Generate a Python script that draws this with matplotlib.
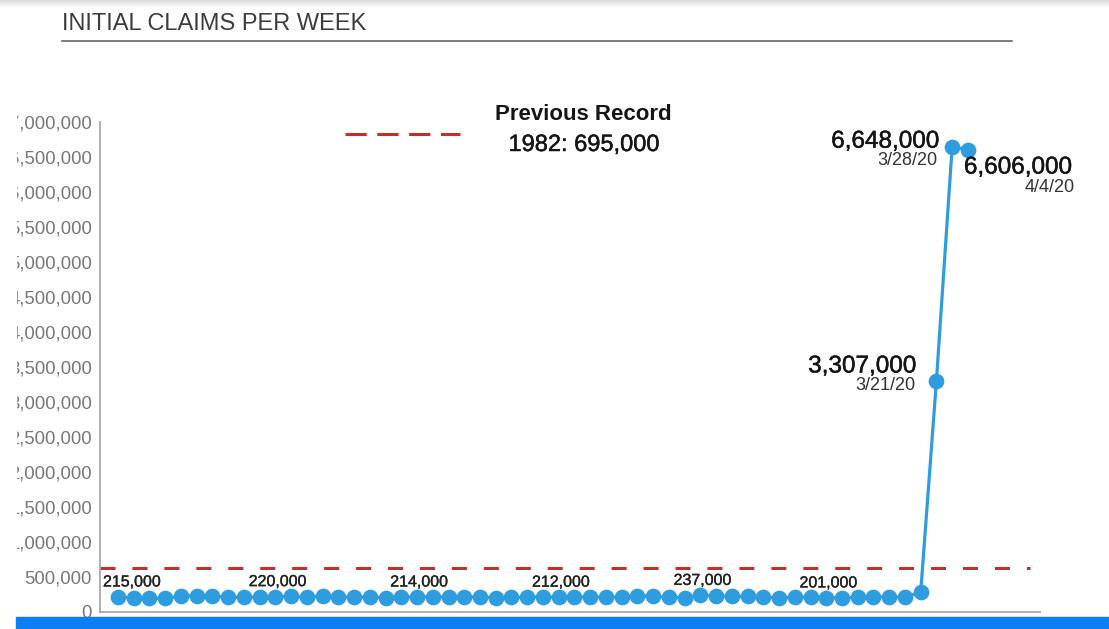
import matplotlib
matplotlib.use("Agg")
import matplotlib.pyplot as plt
import matplotlib.patheffects as pe
from matplotlib.lines import Line2D
from matplotlib.patches import Rectangle
from matplotlib.ticker import FuncFormatter, MultipleLocator
import numpy as np

# ---------------- data ----------------
TITLE = "INITIAL CLAIMS PER WEEK"
# weekly initial claims, weeks ending 3/23/19 ... 4/4/20
CLAIMS = [
    215000, 204000, 196000, 193000, 230000, 230000, 228000, 212000, 211000, 215000,
    220000, 222000, 216000, 227000, 221000, 209000, 216000, 206000, 215000, 214000,
    220000, 209000, 215000, 217000, 204000, 208000, 213000, 219000, 212000, 214000,
    212000, 218000, 211000, 225000, 227000, 213000, 203000, 237000, 234000, 222000,
    222000, 214000, 204000, 211000, 216000, 201000, 205000, 210000, 219000, 216000,
    211000, 282000, 3307000, 6648000, 6606000,
]
SMALL_LABEL_IDX = [0, 10, 19, 28, 37, 45]
BIG_LABEL_IDX = [52, 53, 54]
BIG_LABEL_DATES = ["3/21/20", "3/28/20", "4/4/20"]
RECORD_TEXT = ["Previous Record", "1982: 695,000"]
RECORD_LINE = 625000
Y_MAX = 7000000
Y_STEP = 500000

LINE_COLOR = "#2e9de0"
RED = "#c2302e"
BLUE_BAR = "#0c7ef2"

plt.rcParams["font.family"] = ["Liberation Sans", "DejaVu Sans"]
plt.rcParams["lines.scale_dashes"] = False

W, H = 1109, 629
fig = plt.figure(figsize=(W / 100, H / 100), dpi=100)
fig.patch.set_facecolor("white")


def thick(c, w=0.3):
    return [pe.withStroke(linewidth=w, foreground=c)]


ax = fig.add_axes([100 / W, 17 / H, 940 / W, 490 / H])
x = np.arange(len(CLAIMS))

ax.axhline(RECORD_LINE, xmin=0, xmax=(1030 - 100) / 940, color=RED, lw=2.2,
           dashes=(10.8, 12.2), zorder=2)
ax.plot(x, CLAIMS, color=LINE_COLOR, lw=2.3, marker="o", ms=10.3, zorder=3,
        clip_on=False)

ax.set_xlim(-1.144, 58.58)
ax.set_ylim(0, Y_MAX)
ax.yaxis.set_major_locator(MultipleLocator(Y_STEP))
ax.yaxis.set_major_formatter(FuncFormatter(lambda v, p: f"{int(round(v)):,}"))
ax.set_xticks([])
ax.tick_params(axis="y", length=0, pad=5.8, labelsize=13.3, labelcolor="#777777")
for s in ["top", "right"]:
    ax.spines[s].set_visible(False)
for s in ["left", "bottom"]:
    ax.spines[s].set_color("#a8a8a8")
    ax.spines[s].set_linewidth(1.3)

# small value labels
for k, i in enumerate(SMALL_LABEL_IDX):
    if k == 0:
        ax.annotate(f"{CLAIMS[i]:,}", xy=(i, CLAIMS[i]), xytext=(-15, 15),
                    textcoords="offset pixels", ha="left", va="center",
                    fontsize=11.5, color="#222222", path_effects=thick("#222222", 0.25))
    else:
        ax.annotate(f"{CLAIMS[i]:,}", xy=(i, CLAIMS[i]), xytext=(2, 15),
                    textcoords="offset pixels", ha="center", va="center",
                    fontsize=11.5, color="#222222", path_effects=thick("#222222", 0.25))

# big value labels
offsets = [
    ((-20, 14, "right"), (-21, -5, "right")),
    ((-13, 5, "right"), (-15, -14, "right")),
    ((-4, -18, "left"), (107, -38, "right")),
]
for i, d, (vo, do) in zip(BIG_LABEL_IDX, BIG_LABEL_DATES, offsets):
    ax.annotate(f"{CLAIMS[i]:,}", xy=(i, CLAIMS[i]), xytext=vo[:2],
                textcoords="offset pixels", ha=vo[2], va="center",
                fontsize=17.5, color="#151515", path_effects=thick("#151515", 0.35))
    ax.annotate(d, xy=(i, CLAIMS[i]), xytext=do[:2],
                textcoords="offset pixels", ha=do[2], va="center",
                fontsize=13, color="#333333")

# title and rule
fig.text(62 / W, 1 - 30 / H, TITLE, fontsize=17, color="#3c3c3c", va="baseline")
fig.add_artist(Line2D([62 / W, 1012 / W], [1 - 40.5 / H] * 2, color="#666666", lw=1.2))

# record legend
fig.add_artist(Line2D([345 / W, 460 / W], [1 - 134 / H] * 2, color=RED, lw=2.2,
                      dashes=(15.3, 7.6)))
fig.text(583 / W, 1 - 115 / H, RECORD_TEXT[0], ha="center", va="center",
         fontsize=16, fontweight="bold", color="#151515")
fig.text(584 / W, 1 - 145 / H, RECORD_TEXT[1], ha="center", va="center",
         fontsize=17, color="#151515", path_effects=thick("#151515", 0.35))

# top shadow
axs = fig.add_axes([0, 1 - 8 / H, 1, 8 / H])
axs.imshow(np.linspace(0.86, 1.0, 16)[:, None], cmap="gray", vmin=0, vmax=1,
           aspect="auto", interpolation="bilinear")
axs.axis("off")

# left crop edge and bottom blue bar
fig.add_artist(Rectangle((0, 12 / H), 16 / W, 1 - 20 / H, transform=fig.transFigure,
                         color="white", zorder=9))
fig.add_artist(Rectangle((16 / W, 0), 1 - 16 / W, 12 / H, transform=fig.transFigure,
                         color=BLUE_BAR, zorder=10))

fig.savefig("out.png", dpi=100)
